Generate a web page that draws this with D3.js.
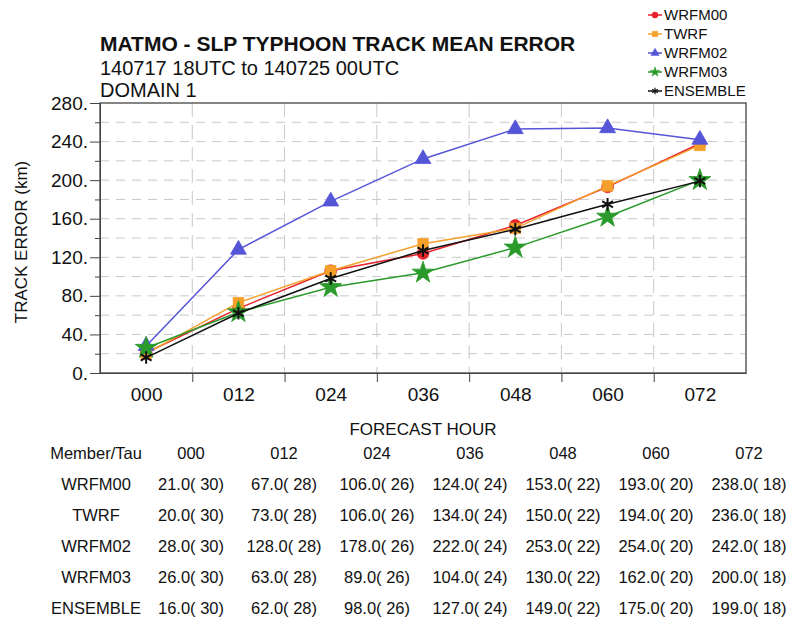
<!DOCTYPE html>
<html>
<head>
<meta charset="utf-8">
<script src="https://cdn.jsdelivr.net/npm/d3@7"></script>
<style>
  body { margin: 0; background: #fff; }
  text { font-family: "Liberation Sans", Arial, sans-serif; fill: #111; }
</style>
</head>
<body>
<svg width="791" height="621"></svg>
<script>
// chart data
const taus = ["000", "012", "024", "036", "048", "060", "072"];
const members = ["WRFM00", "TWRF", "WRFM02", "WRFM03", "ENSEMBLE"];
const wrfm00 = [21, 67, 106, 124, 153, 193, 238];
const twrf = [20, 73, 106, 134, 150, 194, 236];
const wrfm02 = [28, 128, 178, 222, 253, 254, 242];
const wrfm03 = [26, 63, 89, 104, 130, 162, 200];
const ensemble = [16, 62, 98, 127, 149, 175, 199];
const caseCounts = [30, 28, 26, 24, 22, 20, 18];
const yTicks = [0, 40, 80, 120, 160, 200, 240, 280];

const series = [
  {name: members[0], values: wrfm00, color: "#e8222a", shape: d3.symbolCircle, fill: true},
  {name: members[1], values: twrf, color: "#f5a02a", shape: d3.symbolSquare, fill: true},
  {name: members[2], values: wrfm02, color: "#5555d8", shape: d3.symbolTriangle, fill: true},
  {name: members[3], values: wrfm03, color: "#2a9a2a", shape: d3.symbolStar, fill: true},
  {name: members[4], values: ensemble, color: "#111111", shape: d3.symbolAsterisk, fill: false}
];

const svg = d3.select("svg");
const plotL = 100, plotR = 746, plotT = 103, plotB = 373;

const x = d3.scalePoint().domain(taus).range([plotL, plotR]).padding(0.5);
const step = x.step();
const y = d3.scaleLinear().domain([0, 280]).range([plotB, plotT]);

// grid
const grid = svg.append("g").attr("stroke", "#c8c8c8").attr("stroke-width", 1);
d3.range(20, 280, 20).forEach(v => {
  grid.append("line")
    .attr("x1", plotL).attr("x2", plotR)
    .attr("y1", y(v)).attr("y2", y(v))
    .attr("stroke-dasharray", "9,7");
});
taus.slice(1).forEach(t => {
  const gx = x(t) - step / 2;
  grid.append("line")
    .attr("x1", gx).attr("x2", gx)
    .attr("y1", plotT).attr("y2", plotB)
    .attr("stroke-dasharray", "14,8");
});

// frame
svg.append("rect")
  .attr("x", plotL).attr("y", plotT)
  .attr("width", plotR - plotL).attr("height", plotB - plotT)
  .attr("fill", "none").attr("stroke", "#444").attr("stroke-width", 1.3);

// y axis
const yAxis = svg.append("g").attr("transform", `translate(${plotL},0)`)
  .call(d3.axisLeft(y).tickValues(yTicks).tickFormat(d => d + ".").tickSize(10).tickPadding(2));
svg.append("g").attr("transform", `translate(${plotL},0)`)
  .call(d3.axisLeft(y).tickValues(d3.range(20, 280, 40)).tickFormat("").tickSize(5))
  .call(g => g.select(".domain").remove());

// x axis
const xAxis = svg.append("g").attr("transform", `translate(0,${plotB})`)
  .call(d3.axisBottom(x).tickSize(0).tickPadding(15));
svg.append("g").attr("transform", `translate(${-step / 2},${plotB})`)
  .call(d3.axisBottom(x).tickValues(taus.slice(1)).tickFormat("").tickSize(9))
  .call(g => g.select(".domain").remove());

svg.selectAll(".tick line").attr("stroke", "#444");
svg.selectAll(".domain").attr("stroke", "#444");
yAxis.selectAll("text").style("font-size", "19px");
xAxis.selectAll("text").style("font-size", "19px");

// titles
svg.append("text").attr("x", plotL).attr("y", 51)
  .style("font-size", "21px").style("font-weight", "bold")
  .text("MATMO - SLP TYPHOON TRACK MEAN ERROR");
svg.append("text").attr("x", plotL).attr("y", 75)
  .style("font-size", "20px")
  .text("140717 18UTC to 140725 00UTC");
svg.append("text").attr("x", plotL).attr("y", 97)
  .style("font-size", "20px")
  .text("DOMAIN 1");

svg.append("text")
  .attr("transform", `translate(27,242) rotate(-90)`)
  .attr("text-anchor", "middle")
  .style("font-size", "17px")
  .text("TRACK ERROR (km)");

svg.append("text").attr("x", (plotL + plotR) / 2).attr("y", 435)
  .attr("text-anchor", "middle").style("font-size", "17px")
  .text("FORECAST HOUR");

// lines and markers
const line = d3.line().x((d, i) => x(taus[i])).y(d => y(d));
series.forEach(s => {
  const g = svg.append("g");
  g.append("path").datum(s.values)
    .attr("d", line).attr("fill", "none")
    .attr("stroke", s.color).attr("stroke-width", 1.5);
  g.selectAll("path.m").data(s.values).enter().append("path")
    .attr("class", "m")
    .attr("transform", (d, i) => `translate(${x(taus[i])},${y(d)})`)
    .attr("d", d3.symbol().type(s.shape).size(s.shape === d3.symbolStar ? 150 : 110))
    .attr("fill", s.fill ? s.color : "none")
    .attr("stroke", s.color).attr("stroke-width", s.fill ? 0.8 : 2);
});

// legend
const legend = svg.append("g");
series.forEach((s, i) => {
  const ly = 15 + i * 19;
  legend.append("line").attr("x1", 648).attr("x2", 662)
    .attr("y1", ly).attr("y2", ly).attr("stroke", s.color).attr("stroke-width", 1.5);
  legend.append("path")
    .attr("transform", `translate(655,${ly})`)
    .attr("d", d3.symbol().type(s.shape).size(30))
    .attr("fill", s.fill ? s.color : "none").attr("stroke", s.color)
    .attr("stroke-width", s.fill ? 0.5 : 1.2);
  legend.append("text").attr("x", 664).attr("y", ly + 5)
    .style("font-size", "15px").text(s.name);
});

// table
const colX = [96].concat(taus.map((t, i) => 191 + i * 93));
const tableTop = 459, rowH = 31;
const table = svg.append("g").style("font-size", "16.5px").attr("text-anchor", "middle");
["Member/Tau"].concat(taus).forEach((h, j) => {
  table.append("text").attr("x", colX[j]).attr("y", tableTop).text(h);
});
series.forEach((s, r) => {
  const ry = tableTop + (r + 1) * rowH;
  table.append("text").attr("x", colX[0]).attr("y", ry).text(s.name);
  s.values.forEach((v, j) => {
    table.append("text").attr("x", colX[j + 1]).attr("y", ry)
      .text(v.toFixed(1) + "( " + caseCounts[j] + ")");
  });
});
</script>
</body>
</html>
